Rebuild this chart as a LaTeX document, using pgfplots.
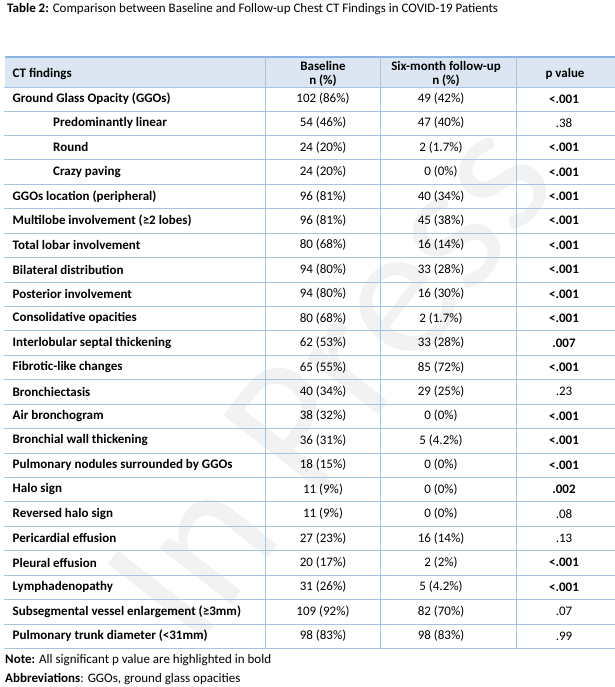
\documentclass[border=0pt]{standalone}
\usepackage{fontspec}
\setmainfont{Carlito}
\usepackage{pgfplots}
\pgfplotsset{compat=1.18}
\definecolor{hdr}{HTML}{DCE6F2}
\definecolor{ln}{HTML}{A7C3E3}
\definecolor{lnt}{HTML}{8DB4E2}
\definecolor{wm}{HTML}{F2F2F2}
\newcommand{\fs}{\fontsize{13bp}{14.5bp}\selectfont}
\begin{document}
\begin{tikzpicture}
\begin{axis}[
  width=615bp, height=687bp, scale only axis,
  xmin=0, xmax=615, ymin=0, ymax=687, y dir=reverse,
  hide axis, clip=false,
]
% watermark
\node[rotate=52, text=wm, font=\fontsize{190bp}{190bp}\selectfont] at (axis cs:330,380) {In Press};
% header fill
\fill[hdr] (axis cs:5,57) rectangle (axis cs:615,87);
% horizontal lines
\pgfplotsinvokeforeach{0,...,22}{
  \draw[ln, line width=0.9pt] (axis cs:4,{111+24.43*#1}) -- (axis cs:615,{111+24.43*#1});
}
\draw[ln, line width=0.9pt] (axis cs:4,87) -- (axis cs:615,87);
\draw[lnt, line width=1.6pt] (axis cs:5,57) -- (axis cs:615,57);
% vertical lines
\pgfplotsinvokeforeach{265.5,380,516.5}{
  \draw[ln, line width=0.9pt] (axis cs:#1,57) -- (axis cs:#1,648.4);
}
% title
\node[anchor=west, font=\fs, inner sep=0pt] at (axis cs:7,9) {\textbf{Table 2:} Comparison between Baseline and Follow-up Chest CT Findings in COVID-19 Patients};
% header
\node[anchor=west, font=\fs\bfseries, inner sep=0pt] at (axis cs:12.5,74) {CT findings};
\node[align=center, font=\fs\bfseries, inner sep=0pt] at (axis cs:323,74) {Baseline\\n (\%)};
\node[align=center, font=\fs\bfseries, inner sep=0pt] at (axis cs:446,74) {Six-month follow-up\\n (\%)};
\node[font=\fs\bfseries, inner sep=0pt] at (axis cs:565,74) {p value};
% row labels
\addplot[only marks, mark size=0pt, mark options={draw=none,fill=none},
  point meta=explicit symbolic, nodes near coords,
  nodes near coords style={anchor=west, font=\fs\bfseries, inner sep=0pt}]
coordinates {
(12.5,98.8) [Ground Glass Opacity (GGOs)]
(53,122.9) [Predominantly linear]
(53,147.4) [Round]
(53,171.8) [Crazy paving]
(12.5,196.2) [GGOs location (peripheral)]
(12.5,220.7) [Multilobe involvement (≥2 lobes)]
(12.5,245.1) [Total lobar involvement]
(12.5,269.5) [Bilateral distribution]
(12.5,293.9) [Posterior involvement]
(12.5,318.4) [Consolidative opacities]
(12.5,342.8) [Interlobular septal thickening]
(12.5,367.2) [Fibrotic-like changes]
(12.5,391.7) [Bronchiectasis]
(12.5,416.1) [Air bronchogram]
(12.5,440.5) [Bronchial wall thickening]
(12.5,465.0) [Pulmonary nodules surrounded by GGOs]
(12.5,489.4) [Halo sign]
(12.5,513.8) [Reversed halo sign]
(12.5,538.2) [Pericardial effusion]
(12.5,562.7) [Pleural effusion]
(12.5,587.1) [Lymphadenopathy]
(12.5,611.5) [Subsegmental vessel enlargement (≥3mm)]
(12.5,636.0) [Pulmonary trunk diameter (<31mm)]
};
% baseline
\addplot[only marks, mark size=0pt, mark options={draw=none,fill=none},
  point meta=explicit symbolic, nodes near coords,
  nodes near coords style={anchor=center, font=\fs, inner sep=0pt}]
coordinates {
(323,98.8) [102 (86\%)]
(323,122.9) [54 (46\%)]
(323,147.4) [24 (20\%)]
(323,171.8) [24 (20\%)]
(323,196.2) [96 (81\%)]
(323,220.7) [96 (81\%)]
(323,245.1) [80 (68\%)]
(323,269.5) [94 (80\%)]
(323,293.9) [94 (80\%)]
(323,318.4) [80 (68\%)]
(323,342.8) [62 (53\%)]
(323,367.2) [65 (55\%)]
(323,391.7) [40 (34\%)]
(323,416.1) [38 (32\%)]
(323,440.5) [36 (31\%)]
(323,465.0) [18 (15\%)]
(323,489.4) [11 (9\%)]
(323,513.8) [11 (9\%)]
(323,538.2) [27 (23\%)]
(323,562.7) [20 (17\%)]
(323,587.1) [31 (26\%)]
(323,611.5) [109 (92\%)]
(323,636.0) [98 (83\%)]
};
% follow-up
\addplot[only marks, mark size=0pt, mark options={draw=none,fill=none},
  point meta=explicit symbolic, nodes near coords,
  nodes near coords style={anchor=center, font=\fs, inner sep=0pt}]
coordinates {
(441,98.8) [49 (42\%)]
(441,122.9) [47 (40\%)]
(441,147.4) [2 (1.7\%)]
(441,171.8) [0 (0\%)]
(441,196.2) [40 (34\%)]
(441,220.7) [45 (38\%)]
(441,245.1) [16 (14\%)]
(441,269.5) [33 (28\%)]
(441,293.9) [16 (30\%)]
(441,318.4) [2 (1.7\%)]
(441,342.8) [33 (28\%)]
(441,367.2) [85 (72\%)]
(441,391.7) [29 (25\%)]
(441,416.1) [0 (0\%)]
(441,440.5) [5 (4.2\%)]
(441,465.0) [0 (0\%)]
(441,489.4) [0 (0\%)]
(441,513.8) [0 (0\%)]
(441,538.2) [16 (14\%)]
(441,562.7) [2 (2\%)]
(441,587.1) [5 (4.2\%)]
(441,611.5) [82 (70\%)]
(441,636.0) [98 (83\%)]
};
% p values bold
\addplot[only marks, mark size=0pt, mark options={draw=none,fill=none},
  point meta=explicit symbolic, nodes near coords,
  nodes near coords style={anchor=center, font=\fs\bfseries, inner sep=0pt}]
coordinates {
(564,98.8) [<.001]
(564,147.4) [<.001]
(564,171.8) [<.001]
(564,196.2) [<.001]
(564,220.7) [<.001]
(564,245.1) [<.001]
(564,269.5) [<.001]
(564,293.9) [<.001]
(564,318.4) [<.001]
(564,342.8) [.007]
(564,367.2) [<.001]
(564,416.1) [<.001]
(564,440.5) [<.001]
(564,465.0) [<.001]
(564,489.4) [.002]
(564,562.7) [<.001]
(564,587.1) [<.001]
};
% p values regular
\addplot[only marks, mark size=0pt, mark options={draw=none,fill=none},
  point meta=explicit symbolic, nodes near coords,
  nodes near coords style={anchor=center, font=\fs, inner sep=0pt}]
coordinates {
(564,122.9) [.38]
(564,391.7) [.23]
(564,513.8) [.08]
(564,538.2) [.13]
(564,611.5) [.07]
(564,636.0) [.99]
};
% notes
\node[anchor=west, font=\fs, inner sep=0pt] at (axis cs:5,660) {\textbf{Note:} All significant p value are highlighted in bold};
\node[anchor=west, font=\fs, inner sep=0pt] at (axis cs:5,679) {\textbf{Abbreviations}: GGOs, ground glass opacities};
\end{axis}
\pgfresetboundingbox
\path[use as bounding box] (current axis.south west) rectangle (current axis.north east);
\end{tikzpicture}
\end{document}
